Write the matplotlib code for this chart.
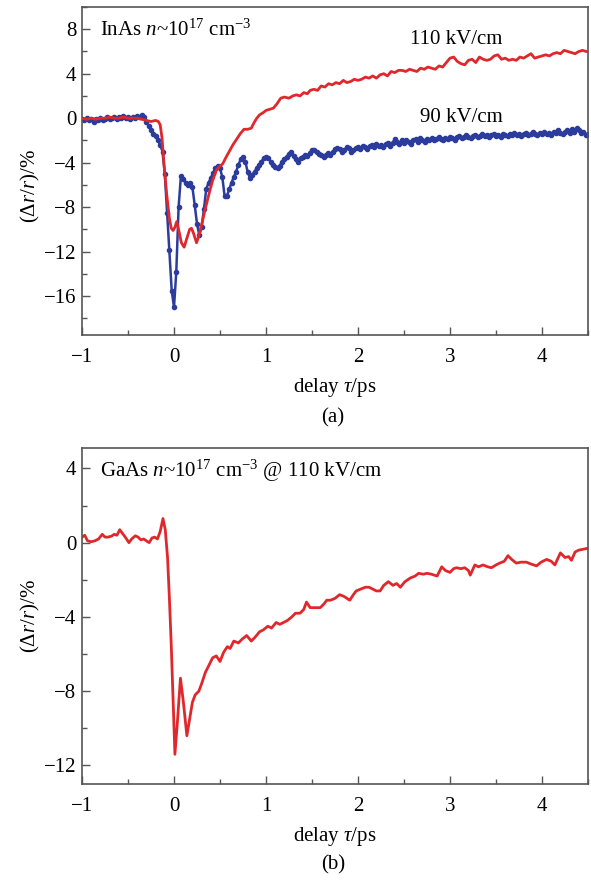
import numpy as np
import matplotlib
matplotlib.use("Agg")
import matplotlib.pyplot as plt
from matplotlib.ticker import MultipleLocator

plt.rcParams['font.family'] = ['Liberation Serif', 'DejaVu Serif']
plt.rcParams['mathtext.fontset'] = 'custom'
plt.rcParams['mathtext.rm'] = 'Liberation Serif'
plt.rcParams['mathtext.it'] = 'Liberation Serif:italic'
plt.rcParams['axes.unicode_minus'] = True

# ---------------- data ----------------
# (a) InAs, 90 kV/cm (blue, sampled every 0.025 ps from -1 to 4.5 ps)
blue_start, blue_step = -1.0, 0.025
blue_90 = [
    -0.1, -0.2, 0.0, -0.2, -0.1, -0.3, -0.1, -0.2, 0.0, -0.2, -0.1, 0.1, -0.1, 0.0, 0.1, -0.1, 0.1, 0.0, 0.2, 0.0,
    0.1, -0.1, 0.1, 0.0, 0.2, 0.1, 0.3, 0.1, -0.3, -0.7, -1.1, -1.4, -1.6, -2.0, -2.4, -3.0, -5.0, -8.5, -11.9, -15.5,
    -17.0, -13.8, -8.0, -5.2, -5.5, -5.8, -6.0, -5.8, -6.2, -7.8, -9.5, -10.5, -9.8, -8.2, -6.4, -5.8, -5.4, -4.9, -4.5, -4.3,
    -4.5, -5.3, -7.0, -7.0, -6.4, -5.8, -5.3, -4.8, -4.2, -3.7, -3.5, -3.9, -4.8, -5.4, -5.1, -4.8, -4.5, -4.2, -3.9, -3.6,
    -3.5, -3.6, -3.9, -4.2, -4.4, -4.5, -4.3, -3.9, -3.7, -3.5, -3.2, -3.0, -3.4, -3.7, -3.9, -3.6, -3.5, -3.3, -3.4, -3.1,
    -2.9, -2.9, -3.0, -3.2, -3.3, -3.5, -3.3, -3.1, -3.3, -3.0, -2.8, -2.7, -2.8, -3.0, -2.9, -2.6, -2.7, -3.0, -2.9, -2.7,
    -2.6, -2.8, -2.5, -2.6, -2.8, -2.5, -2.4, -2.6, -2.3, -2.5, -2.4, -2.6, -2.3, -2.2, -2.5, -2.2, -1.9, -2.1, -2.3, -2.0,
    -2.2, -2.0, -2.1, -2.3, -2.0, -1.9, -2.1, -1.8, -2.0, -2.1, -1.9, -2.0, -1.8, -2.0, -1.9, -1.7, -1.9, -2.0, -1.8, -1.9,
    -1.7, -1.8, -2.0, -1.7, -1.6, -1.8, -1.7, -1.5, -1.7, -1.8, -1.6, -1.5, -1.7, -1.6, -1.4, -1.6, -1.5, -1.7, -1.5, -1.4,
    -1.6, -1.5, -1.7, -1.4, -1.5, -1.6, -1.4, -1.5, -1.3, -1.5, -1.4, -1.6, -1.4, -1.3, -1.5, -1.4, -1.2, -1.4, -1.5, -1.3,
    -1.4, -1.2, -1.4, -1.3, -1.5, -1.2, -1.3, -1.1, -1.3, -1.4, -1.2, -1.1, -1.3, -1.0, -1.2, -0.9, -1.1, -1.3, -1.2, -1.5,
    -1.4,
]
blue_delay = np.round(blue_start + blue_step * np.arange(len(blue_90)), 3)

# (a) InAs, 110 kV/cm (red)
red_a_delay = [
    -1.0, -0.95, -0.9, -0.85, -0.8, -0.75, -0.7, -0.65, -0.6, -0.55, -0.5, -0.45, -0.4, -0.35, -0.3, -0.25,
    -0.2, -0.17, -0.15, -0.13, -0.11, -0.08, -0.05, -0.03, -0.01, 0.01, 0.03, 0.05, 0.08, 0.11, 0.14, 0.17,
    0.19, 0.21, 0.245, 0.27, 0.30, 0.33, 0.36, 0.39, 0.42, 0.46, 0.50, 0.53, 0.56, 0.60, 0.64, 0.68, 0.72,
    0.76, 0.80, 0.84, 0.87, 0.90, 0.93, 0.97, 1.00, 1.04, 1.08, 1.12, 1.16, 1.20, 1.25, 1.29, 1.33, 1.37,
    1.41, 1.45, 1.48, 1.52, 1.56, 1.60, 1.64, 1.68, 1.72, 1.76, 1.80, 1.84, 1.88, 1.92, 1.96, 2.00, 2.04,
    2.08, 2.12, 2.16, 2.20, 2.24, 2.28, 2.32, 2.36, 2.40, 2.44, 2.48, 2.52, 2.56, 2.60, 2.64, 2.68, 2.72,
    2.76, 2.80, 2.84, 2.88, 2.92, 2.96, 3.00, 3.04, 3.08, 3.12, 3.16, 3.20, 3.24, 3.28, 3.32, 3.36, 3.40,
    3.44, 3.48, 3.52, 3.56, 3.60, 3.64, 3.68, 3.72, 3.76, 3.80, 3.84, 3.88, 3.92, 3.96, 4.00, 4.04, 4.08,
    4.12, 4.16, 4.20, 4.24, 4.28, 4.32, 4.36, 4.40, 4.44, 4.48, 4.50,
]
red_a_110 = [
    0.0, -0.1, 0.0, -0.1, 0.0, 0.0, 0.1, 0.0, 0.0, 0.1, 0.0, 0.0, 0.0, -0.1, -0.2, -0.3,
    -0.2, -0.3, -0.6, -1.8, -4.0, -6.8, -9.0, -9.9, -10.1, -9.8, -9.3, -10.0, -11.2, -11.6, -10.8, -10.0,
    -9.9, -10.3, -11.2, -10.6, -9.6, -8.5, -7.5, -6.5, -5.6, -4.7, -4.3, -4.1, -3.6, -3.0, -2.4, -1.9, -1.4,
    -1.0, -1.0, -0.9, -0.4, 0.0, 0.3, 0.5, 0.7, 0.8, 0.9, 1.3, 1.8, 1.9, 1.8, 2.0, 2.1, 2.0,
    2.3, 2.2, 2.5, 2.6, 2.5, 2.9, 2.8, 3.1, 3.0, 3.2, 3.1, 3.4, 3.2, 3.3, 3.5, 3.4, 3.5,
    3.7, 3.6, 3.8, 3.6, 3.9, 4.0, 3.8, 4.2, 4.1, 4.3, 4.3, 4.2, 4.4, 4.3, 4.2, 4.5, 4.4,
    4.6, 4.5, 4.4, 4.7, 4.6, 5.0, 5.4, 5.5, 5.1, 4.9, 4.8, 5.2, 5.3, 5.0, 5.5, 5.3, 5.2,
    5.3, 5.6, 5.7, 5.3, 5.4, 5.2, 5.3, 5.2, 5.5, 5.4, 5.6, 5.8, 5.4, 5.5, 5.6, 5.7, 5.6,
    5.8, 5.9, 5.8, 6.1, 6.0, 5.9, 5.8, 6.0, 6.1, 6.0, 6.0,
]

# (b) GaAs, 110 kV/cm (red)
red_b_delay = [
    -1.0, -0.97, -0.94, -0.9, -0.86, -0.82, -0.78, -0.75, -0.72, -0.68, -0.65, -0.62, -0.59, -0.56, -0.53,
    -0.49, -0.46, -0.42, -0.39, -0.36, -0.33, -0.3, -0.27, -0.24, -0.21, -0.18, -0.15, -0.12, -0.095, -0.07,
    -0.05, -0.03, -0.01, 0.01, 0.035, 0.07, 0.10, 0.14, 0.17, 0.20, 0.23, 0.27, 0.30, 0.34, 0.38, 0.42,
    0.46, 0.50, 0.54, 0.58, 0.61, 0.65, 0.70, 0.74, 0.79, 0.84, 0.88, 0.93, 0.97, 1.02, 1.06, 1.11, 1.15,
    1.19, 1.23, 1.28, 1.32, 1.37, 1.41, 1.44, 1.48, 1.53, 1.59, 1.63, 1.66, 1.70, 1.75, 1.80, 1.85, 1.91,
    1.95, 1.98, 2.03, 2.08, 2.12, 2.16, 2.20, 2.24, 2.28, 2.33, 2.38, 2.42, 2.46, 2.51, 2.57, 2.62, 2.66,
    2.71, 2.75, 2.80, 2.86, 2.91, 2.95, 3.00, 3.04, 3.07, 3.12, 3.16, 3.20, 3.22, 3.27, 3.31, 3.36, 3.41,
    3.45, 3.50, 3.54, 3.59, 3.63, 3.67, 3.72, 3.77, 3.83, 3.88, 3.94, 3.99, 4.05, 4.10, 4.14, 4.20, 4.25,
    4.29, 4.32, 4.36, 4.40, 4.45, 4.50,
]
red_b_110 = [
    0.3, 0.4, 0.1, 0.05, 0.1, 0.2, 0.45, 0.3, 0.3, 0.35, 0.45, 0.4, 0.7, 0.5, 0.3,
    0.0, 0.2, 0.37, 0.3, 0.15, 0.2, 0.1, 0.0, 0.25, 0.3, 0.2, 0.6, 1.3, 0.7, -0.8,
    -3.0, -5.5, -8.5, -11.4, -9.8, -7.3, -8.5, -10.4, -9.5, -8.6, -8.2, -8.0, -7.6, -7.0, -6.6, -6.2,
    -6.1, -6.4, -5.9, -5.6, -5.7, -5.3, -5.4, -5.2, -5.0, -5.3, -5.1, -4.8, -4.7, -4.5, -4.6, -4.3, -4.4,
    -4.3, -4.2, -4.0, -3.8, -3.8, -3.6, -3.2, -3.5, -3.5, -3.5, -3.3, -3.1, -3.1, -3.0, -2.8, -2.9, -3.1,
    -2.8, -2.6, -2.5, -2.4, -2.4, -2.5, -2.6, -2.6, -2.3, -2.1, -2.3, -2.2, -2.4, -2.1, -1.9, -1.8, -1.65,
    -1.7, -1.65, -1.7, -1.8, -1.3, -1.5, -1.6, -1.4, -1.35, -1.4, -1.35, -1.5, -1.75, -1.2, -1.3, -1.2, -1.3,
    -1.35, -1.2, -1.1, -1.0, -0.7, -0.9, -1.1, -1.05, -1.05, -1.15, -1.25, -1.05, -0.9, -1.0, -1.2, -0.55, -0.8,
    -0.75, -0.95, -0.5, -0.4, -0.35, -0.3,
]

x_ticks = [-1, 0, 1, 2, 3, 4]
ya_ticks = [8, 4, 0, -4, -8, -12, -16]
yb_ticks = [4, 0, -4, -8, -12]

RED = '#e0282c'
BLUE = '#2c3c9c'
SPINE = '#555555'
FS = 15

W, H = 591, 880
fig = plt.figure(figsize=(W / 100, H / 100), dpi=100)


def style(ax, yticks, ylim):
    ax.set_xlim(-1, 4.5)
    ax.set_ylim(*ylim)
    ax.set_xticks(x_ticks)
    ax.set_yticks(yticks)
    ax.xaxis.set_minor_locator(MultipleLocator(0.5))
    ax.yaxis.set_minor_locator(MultipleLocator(2))
    ax.tick_params(which='both', direction='in', top=False, right=False,
                   color=SPINE, labelsize=FS, width=1.0)
    ax.tick_params(which='major', length=6)
    ax.tick_params(which='minor', length=3.5)
    ax.tick_params(axis='y', which='major', pad=4)
    ax.tick_params(axis='x', which='major', pad=9.5)
    for s in ax.spines.values():
        s.set_color(SPINE)
        s.set_linewidth(1.2)
    ax.set_ylabel(r'$(\Delta r/r)$/%', fontsize=FS)
    ax.set_xlabel(r'delay $\tau$/ps', fontsize=FS, labelpad=6)


# panel (a)
ax1 = fig.add_axes([82 / W, 1 - 335 / H, (588 - 82) / W, (335 - 7) / H])
style(ax1, ya_ticks, (-19.5, 10.0))
ax1.plot(red_a_delay, red_a_110, color=RED, lw=2.0, zorder=3)
ax1.plot(blue_delay, blue_90, color=BLUE, lw=1.8, marker='o', ms=3.0,
         mec=BLUE, mfc=BLUE, zorder=2)
ax1.text(100 / W, 1 - 30 / H, r'InAs $n$~10$^{17}$ cm$^{-3}$', transform=fig.transFigure,
         fontsize=FS, va='center', ha='left')
ax1.text(410 / W, 1 - 40 / H, '110 kV/cm', transform=fig.transFigure,
         fontsize=FS, va='center', ha='left')
ax1.text(420 / W, 1 - 118 / H, '90 kV/cm', transform=fig.transFigure,
         fontsize=FS, va='center', ha='left')
fig.text(333 / W, 1 - 418 / H, '(a)', fontsize=FS, ha='center', va='center')

# panel (b)
ax2 = fig.add_axes([82 / W, 1 - 784 / H, (588 - 82) / W, (784 - 448) / H])
style(ax2, yb_ticks, (-13.0, 5.1))
ax2.plot(red_b_delay, red_b_110, color=RED, lw=2.0)
ax2.text(100 / W, 1 - 471 / H, r'GaAs $n$~10$^{17}$ cm$^{-3}$ @ 110 kV/cm',
         transform=fig.transFigure, fontsize=FS, va='center', ha='left')
fig.text(333 / W, 1 - 865 / H, '(b)', fontsize=FS, ha='center', va='center')

ax1.yaxis.set_label_coords(-0.08, 0.455)
ax2.yaxis.set_label_coords(-0.08, 0.5)

fig.savefig('out.png', dpi=100)
